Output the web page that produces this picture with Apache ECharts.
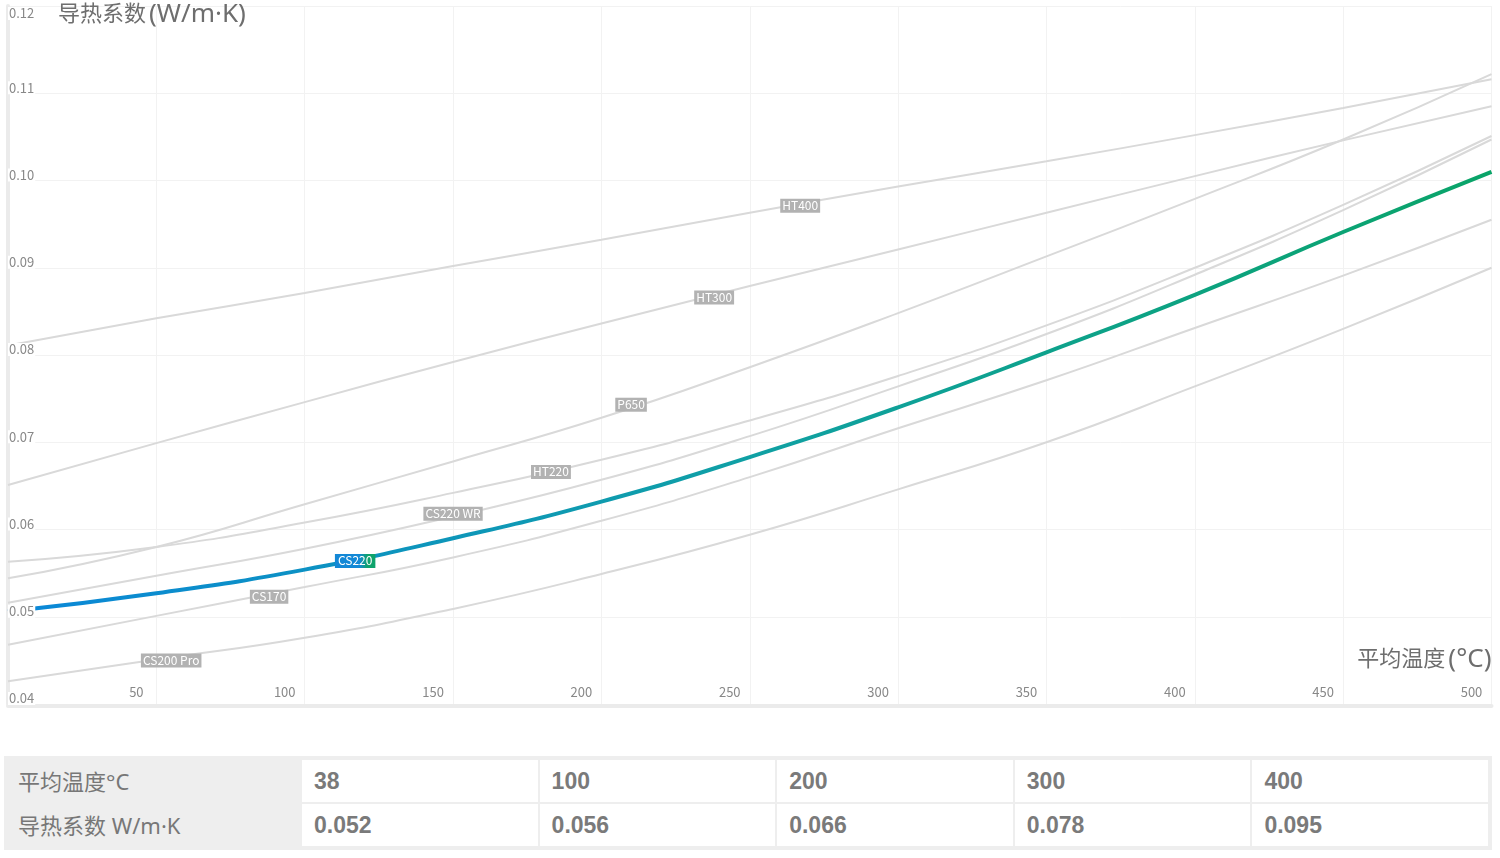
<!DOCTYPE html>
<html>
<head>
<meta charset="utf-8">
<script src="https://cdn.jsdelivr.net/npm/echarts@6/dist/echarts.min.js"></script>
<style>
  html, body { margin: 0; padding: 0; background: #fff; }
  #chart { position: absolute; left: 0; top: 0; width: 1500px; height: 858px; }
  #tbl {
    position: absolute; left: 4px; top: 756px; width: 1488px; height: 94px;
    box-sizing: border-box; padding: 4px 4px 4px 0; background: #eeeeee;
    display: grid; grid-template-columns: 296px repeat(5, 1fr);
    grid-template-rows: 42px 42px; column-gap: 2px; row-gap: 2px;
  }
  .lab { display: flex; align-items: center; padding-left: 14px; padding-bottom: 2px;
    font-family: 'Noto Sans', 'Noto Sans CJK SC', sans-serif; font-size: 22px; color: #777; }
  .val { display: flex; align-items: center; padding-left: 12px; background: #fff;
    font-family: 'Liberation Sans', Arial, sans-serif; font-weight: bold; font-size: 23px; color: #7a7a7a; }
</style>
</head>
<body>
<div id="chart"></div>
<div id="tbl"></div>
<script>
// ---- data ----
const temps = [0, 50, 100, 150, 200, 250, 300, 350, 400, 450, 500];
const ht400    = [0.0811, 0.0842, 0.0871, 0.0902, 0.0932, 0.0963, 0.0993, 0.1022, 0.1052, 0.1083, 0.1116];
const ht300    = [0.0651, 0.0699, 0.0746, 0.0792, 0.0836, 0.0879, 0.0921, 0.0963, 0.1005, 0.1046, 0.1085];
const p650     = [0.0544, 0.0580, 0.0629, 0.0678, 0.0728, 0.0786, 0.0848, 0.0913, 0.0979, 0.1047, 0.1122];
const ht220    = [0.0563, 0.0580, 0.0608, 0.0642, 0.0680, 0.0725, 0.0776, 0.0834, 0.0900, 0.0972, 0.1051];
const cs220wr  = [0.0516, 0.0547, 0.0578, 0.0615, 0.0657, 0.0707, 0.0764, 0.0824, 0.0892, 0.0966, 0.1047];
const cs170    = [0.0468, 0.0501, 0.0534, 0.0568, 0.0610, 0.0660, 0.0716, 0.0771, 0.0831, 0.0891, 0.0955];
const cs200pro = [0.0426, 0.0451, 0.0476, 0.0509, 0.0549, 0.0594, 0.0646, 0.0700, 0.0764, 0.0830, 0.0900];
const cs220    = [0.0506, 0.0527, 0.0554, 0.0590, 0.0632, 0.0683, 0.0740, 0.0803, 0.0869, 0.0941, 0.1010];

const grayNames  = ['HT400', 'HT300', 'P650', 'HT220', 'CS220 WR', 'CS170', 'CS200 Pro'];
const grayValues = [ht400, ht300, p650, ht220, cs220wr, cs170, cs200pro];
// where each name tag sits on its curve
const grayLabelT = [267, 238, 210, 183, 150, 88, 55];
const grayLabelV = [0.0971, 0.0866, 0.0743, 0.0666, 0.0618, 0.0523, 0.0450];
const mainName = 'CS220';
const mainLabelT = 117;
const mainLabelV = 0.0564;

const yMin = 0.04, yMax = 0.12, yStep = 0.01;
const xMin = 0, xMax = 500, xStep = 50;
const yTitleCn = '导热系数', yTitleUnit = '(W/m·K)';
const xTitleCn = '平均温度', xTitleUnit = '(°C)';

const tableHead = ['平均温度°C', '导热系数 W/m·K'];
const tableTemps = ['38', '100', '200', '300', '400'];
const tableK = ['0.052', '0.056', '0.066', '0.078', '0.095'];

// ---- table ----
const tbl = document.getElementById('tbl');
[tableTemps, tableK].forEach((row, r) => {
  const l = document.createElement('div'); l.className = 'lab'; l.textContent = tableHead[r]; tbl.appendChild(l);
  row.forEach(v => { const c = document.createElement('div'); c.className = 'val'; c.textContent = v; tbl.appendChild(c); });
});

// ---- chart ----
const FONT = "'Noto Sans CJK SC', 'Noto Sans', sans-serif";
const NAMEFONT = "'Noto Sans', 'Noto Sans CJK SC', sans-serif";
const chart = echarts.init(document.getElementById('chart'), null, { renderer: 'canvas' });

const tagStyle = {
  show: true, position: 'inside', color: '#fff', fontSize: 12, fontFamily: FONT,
  backgroundColor: '#b2b2b2', padding: [1, 2, 0, 2], lineHeight: 13
};

const series = grayNames.map((n, i) => ({
  name: n, type: 'line', smooth: true, showSymbol: false, z: 2,
  lineStyle: { color: '#d9d9d9', width: 2 },
  data: temps.map((t, k) => [t, grayValues[i][k]]),
  markPoint: {
    symbol: 'rect', symbolSize: 1, itemStyle: { color: 'rgba(0,0,0,0)' },
    label: Object.assign({}, tagStyle, { formatter: n }),
    data: [{ coord: [grayLabelT[i], grayLabelV[i]] }]
  }
}));

series.push({
  name: mainName, type: 'line', smooth: true, showSymbol: false, z: 4,
  lineStyle: {
    width: 4,
    color: new echarts.graphic.LinearGradient(0, 0, 1, 0, [
      { offset: 0, color: '#0a87d9' }, { offset: 0.5, color: '#10a0a4' }, { offset: 1, color: '#0aa468' }
    ])
  },
  data: temps.map((t, k) => [t, cs220[k]]),
  markPoint: {
    z: 6, symbol: 'rect', symbolSize: 1, itemStyle: { color: 'rgba(0,0,0,0)' },
    label: Object.assign({}, tagStyle, {
      formatter: mainName, padding: [1, 3, 0, 3],
      backgroundColor: new echarts.graphic.LinearGradient(0, 0, 1, 0, [
        { offset: 0, color: '#1388d6' }, { offset: 0.6, color: '#1388d6' }, { offset: 0.8, color: '#0ea36c' }, { offset: 1, color: '#0ea36c' }
      ])
    }),
    data: [{ coord: [mainLabelT, mainLabelV] }]
  }
});

const nameRich = {
  c: { fontSize: 22, color: '#6e6e6e', fontFamily: NAMEFONT, lineHeight: 26 },
  u: { fontSize: 26, color: '#6e6e6e', fontFamily: NAMEFONT, lineHeight: 26, padding: [0, 0, 0, 3] }
};

chart.setOption({
  animation: false,
  backgroundColor: '#fff',
  textStyle: { fontFamily: FONT },
  grid: { left: 8, right: 8.5, top: 6, bottom: 154, containLabel: false, outerBoundsMode: 'none' },
  xAxis: {
    type: 'value', min: xMin, max: xMax, interval: xStep, offset: 2,
    axisLine: { show: true, lineStyle: { color: '#ebebeb', width: 4 } },
    axisTick: { show: false },
    splitLine: { show: true, lineStyle: { color: '#f2f2f2', width: 1 } },
    axisLabel: {
      inside: true, margin: 7, showMinLabel: false, color: '#888', fontSize: 13, lineHeight: 13,
      fontFamily: FONT, align: 'center', padding: [0, 40, 0, 0]
    },
    name: '{c|' + xTitleCn + '}{u|' + xTitleUnit + '}', nameLocation: 'end', nameGap: 0, nameMoveOverlap: false,
    nameTextStyle: { align: 'right', verticalAlign: 'bottom', padding: [0, 0, 33, 0], rich: nameRich }
  },
  yAxis: [{
    type: 'value', min: yMin, max: yMax, interval: yStep, position: 'left', offset: 3,
    axisLine: { show: true, lineStyle: { color: '#ebebeb', width: 4 } },
    axisTick: { show: false },
    axisLabel: { show: false },
    splitLine: { show: true, lineStyle: { color: '#f2f2f2', width: 1 } }
  }, {
    type: 'value', min: yMin, max: yMax, interval: yStep, position: 'left', z: 10,
    axisLine: { show: false }, axisTick: { show: false }, splitLine: { show: false },
    axisLabel: {
      inside: true, margin: 0, verticalAlign: 'middle',
      formatter: v => {
        const s = v.toFixed(2);
        return Math.abs(v - yMax) < 1e-9 ? '{t| }\n{n|' + s + '}' : '{n|' + s + '}\n{b| }';
      },
      rich: {
        n: { backgroundColor: '#fff', color: '#888', fontSize: 13, lineHeight: 13, height: 13, fontFamily: FONT, padding: [0, 1, 0, 1] },
        b: { fontSize: 1, lineHeight: 11, height: 11 },
        t: { fontSize: 1, lineHeight: 15, height: 15 }
      }
    },
    name: '{c|' + yTitleCn + '}{u|' + yTitleUnit + '}', nameLocation: 'end', nameGap: -9, nameMoveOverlap: false,
    nameTextStyle: { align: 'left', verticalAlign: 'middle', padding: [0, 0, 0, 50], rich: nameRich }
  }],
  series: series
});
</script>
</body>
</html>
